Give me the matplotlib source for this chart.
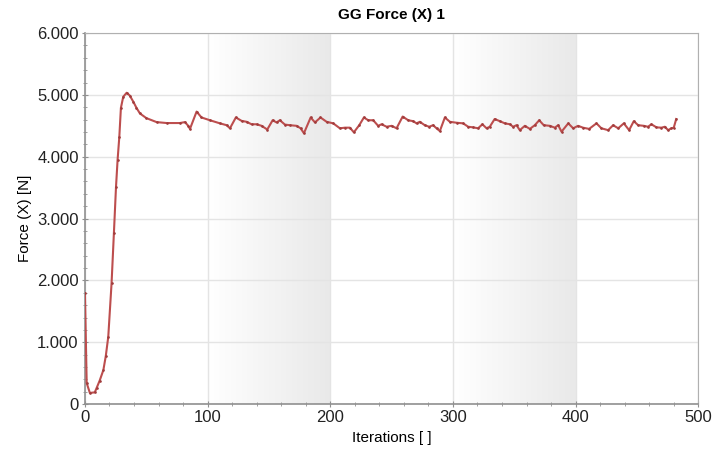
import matplotlib
matplotlib.use('Agg')
import matplotlib.pyplot as plt
from matplotlib.colors import LinearSegmentedColormap
from matplotlib.ticker import FuncFormatter, MultipleLocator
import numpy as np

# values
iters = [0, 1.4, 4, 8, 9.5, 12, 15, 17, 19, 21.7, 23.6, 25.3, 26.6, 28, 29.3,
         31.2, 34, 36.5, 39.4, 42, 44.8, 50, 58.4, 66.6, 77.4, 81.5, 84.2,
         85.6, 91, 95, 101.9, 110, 115.5, 118.2, 123, 127.7, 131.8, 135.8,
         139.9, 144, 148.6, 153, 156.2, 158.9, 163, 167, 172.5, 175.8, 178.5,
         184, 187.5, 192, 197, 202.4, 207.8, 212, 216, 219.2, 223.6, 227.4,
         230.9, 235, 239, 241.8, 245.9, 250, 254, 259, 263.5, 267.6, 270.3,
         273, 277, 280.6, 283.8, 286.6, 289.3, 293.4, 297.5, 302.9, 308.3,
         312.4, 316.5, 320.5, 324, 327.4, 330, 334, 338.2, 342.3, 346.4, 349,
         351.8, 354.5, 358.6, 362.7, 366.7, 370.3, 374, 379, 383, 385.8, 388.5,
         394, 398, 402, 406, 411, 417, 421, 426.5, 430.6, 434.7, 439.3, 443.6,
         447.4, 451, 455.6, 459, 461.8, 465.9, 470, 472.7, 475.4, 478, 480, 482]
force = [1795, 340, 180, 190, 260, 380, 550, 780, 1090, 1960, 2770, 3510,
         3950, 4320, 4790, 4970, 5035, 4990, 4890, 4790, 4700, 4625, 4560,
         4545, 4545, 4560, 4500, 4450, 4730, 4635, 4590, 4540, 4510, 4460,
         4635, 4580, 4565, 4525, 4525, 4500, 4440, 4590, 4555, 4590, 4520,
         4510, 4500, 4460, 4380, 4635, 4555, 4635, 4565, 4540, 4460, 4470,
         4470, 4395, 4510, 4635, 4590, 4590, 4500, 4525, 4485, 4500, 4460,
         4650, 4590, 4575, 4540, 4565, 4510, 4485, 4510, 4460, 4415, 4635,
         4565, 4550, 4540, 4485, 4475, 4460, 4525, 4460, 4485, 4610, 4575,
         4540, 4525, 4485, 4510, 4430, 4500, 4450, 4510, 4590, 4510, 4500,
         4470, 4510, 4405, 4540, 4460, 4500, 4470, 4450, 4540, 4460, 4430,
         4510, 4460, 4540, 4430, 4575, 4510, 4500, 4485, 4525, 4475, 4470,
         4485, 4430, 4460, 4470, 4610]
bands = [(100, 200), (300, 400)]

line_color = '#bd4e4e'
plt.rcParams['font.family'] = ['Liberation Sans', 'DejaVu Sans']

fig = plt.figure(figsize=(7.14, 4.53), dpi=100)
ax = fig.add_axes([0.119, 0.108, 0.859, 0.819])

grad = LinearSegmentedColormap.from_list('band', ['#ffffff', '#e9e9e9'])
ramp = np.linspace(0, 1, 256).reshape(1, -1)
for x0, x1 in bands:
    ax.imshow(ramp, cmap=grad, extent=[x0, x1, 0, 6000], aspect='auto',
              zorder=0, interpolation='bilinear')

ax.plot(iters, force, color=line_color, lw=1.5, marker='o', ms=0.9,
        mec='#a03c3c', mfc='#a03c3c', solid_joinstyle='round', zorder=3)

ax.set_xlim(0, 500)
ax.set_ylim(0, 6000)
ax.xaxis.set_major_locator(MultipleLocator(100))
ax.xaxis.set_minor_locator(MultipleLocator(20))
ax.yaxis.set_major_locator(MultipleLocator(1000))
ax.yaxis.set_minor_locator(MultipleLocator(200))
ax.yaxis.set_major_formatter(
    FuncFormatter(lambda v, p: '{:,.0f}'.format(v).replace(',', '.')))
ax.grid(True, which='major', color='#e4e4e4', lw=1.0, zorder=1)
ax.set_axisbelow(True)

for side in ['top', 'right']:
    ax.spines[side].set_color('#b0b0b0')
for side in ['left', 'bottom']:
    ax.spines[side].set_color('#909090')
    ax.spines[side].set_linewidth(1.2)
ax.tick_params(which='both', direction='inout', color='#909090',
               labelsize=12, labelcolor='#222222', pad=2)
ax.tick_params(which='major', length=5)
ax.tick_params(which='minor', length=3)
ax.tick_params(top=False, right=False)

ax.set_title('GG Force (X) 1', fontsize=11, fontweight='bold', pad=10)
ax.set_xlabel('Iterations [ ]', fontsize=11, labelpad=4)
ax.set_ylabel('Force (X) [N]', fontsize=11, labelpad=4)

fig.savefig('out.png', dpi=100, facecolor='white')
